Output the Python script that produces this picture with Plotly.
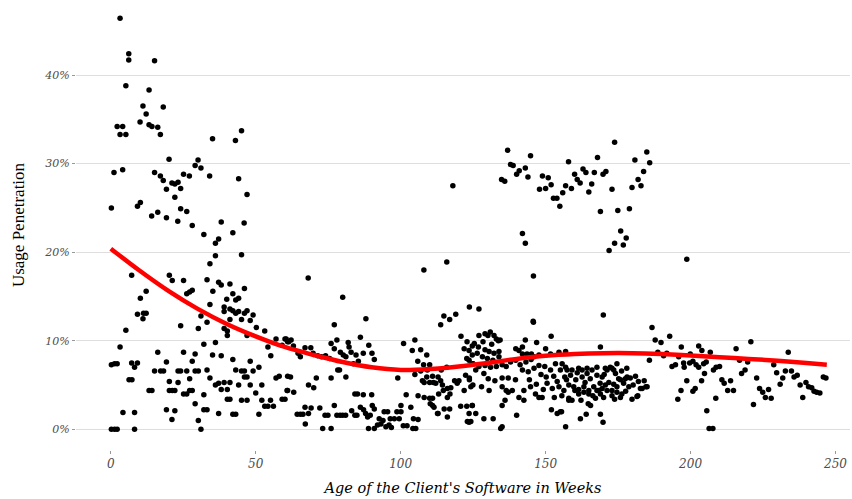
import plotly.graph_objects as go

# puntos: (semanas, % de uso)
early = [
    (3.2, 46.4), (6.2, 42.4), (6.2, 41.7), (15.1, 41.6), (5.2, 38.8), (13.2, 38.3), (11.1, 36.5), (18.1, 36.4),
    (12.2, 35.6), (10.1, 34.7), (13.2, 34.4), (14.2, 34.2), (16.2, 34.1), (2.2, 34.2), (4.1, 34.2), (3.2, 33.3),
    (5.2, 33.3), (17.1, 33.3), (35.1, 32.8), (43.0, 32.6), (45.1, 33.7), (20.1, 30.5), (30.1, 30.4), (29.1, 29.8),
    (31.1, 29.5), (1.1, 29.0), (4.1, 29.3), (15.1, 29.0), (17.1, 28.6), (18.1, 28.1), (21.1, 27.8), (22.1, 27.7),
    (23.2, 27.9), (25.1, 28.8), (27.1, 28.6), (34.1, 28.6), (44.1, 28.3), (19.2, 27.1), (24.1, 27.2), (22.1, 26.2),
    (47.0, 26.5), (0.2, 25.0), (9.2, 25.2), (10.2, 25.6), (14.1, 24.1), (16.2, 24.5), (19.2, 23.9), (24.1, 24.9),
    (26.2, 24.6), (23.1, 23.5), (28.1, 23.0), (38.1, 23.4), (46.0, 23.3), (42.1, 22.2), (32.1, 22.0), (36.1, 21.0),
    (37.2, 21.5), (36.1, 19.6), (34.2, 18.7), (45.1, 19.7), (7.2, 17.4), (20.2, 17.4), (21.2, 16.8), (25.1, 16.8),
    (33.2, 16.9), (37.2, 16.6), (38.1, 16.3), (41.1, 16.4), (46.1, 15.9), (12.2, 15.6), (10.2, 14.8), (28.1, 15.7),
    (27.2, 15.5), (26.2, 15.3), (35.2, 15.6), (42.1, 15.3), (40.0, 14.7), (43.1, 14.6), (44.1, 14.8), (34.2, 14.1),
    (39.1, 13.8), (39.1, 13.3), (41.1, 13.6), (42.1, 13.4), (43.1, 13.1), (44.1, 13.3), (46.1, 13.1), (47.0, 13.4),
    (48.1, 12.3), (49.1, 12.9), (45.1, 12.4), (41.1, 12.4), (9.2, 13.0), (11.3, 13.1), (12.2, 13.1), (11.1, 12.5),
    (31.1, 12.8), (33.2, 12.1), (24.1, 11.7), (30.2, 11.4), (39.1, 11.4), (40.2, 11.1), (40.2, 10.6), (50.2, 11.5),
    (53.1, 11.1), (47.0, 10.6), (5.2, 11.2), (57.0, 10.2), (60.1, 10.2), (61.0, 9.9), (54.2, 9.3), (59.1, 9.5),
    (55.2, 8.3), (32.1, 9.6), (36.1, 9.8), (3.2, 9.3), (16.2, 8.7), (25.1, 8.7), (29.1, 8.5), (19.2, 7.6),
    (28.1, 7.7), (35.1, 8.4), (38.1, 8.3), (42.1, 7.9), (48.1, 7.7), (0.2, 7.3), (1.3, 7.4), (2.2, 7.4),
    (7.2, 7.5), (9.2, 7.5), (8.2, 7.0), (15.1, 6.6), (17.2, 6.6), (18.2, 6.6), (23.2, 6.6), (24.1, 6.6),
    (26.2, 6.6), (29.1, 6.6), (30.2, 6.6), (33.2, 6.7), (43.1, 6.7), (45.1, 6.6), (46.1, 6.6), (51.1, 7.0),
    (49.1, 6.6), (34.2, 5.8), (37.2, 5.2), (36.1, 5.0), (39.1, 5.3), (41.1, 5.3), (46.1, 5.9), (47.0, 5.9),
    (27.2, 5.7), (20.2, 5.4), (23.2, 5.3), (6.3, 5.6), (7.3, 5.6), (44.1, 5.0), (48.1, 5.0), (52.1, 5.0),
    (57.0, 5.8), (58.1, 6.0), (61.0, 6.0), (13.2, 4.4), (14.2, 4.4), (20.2, 4.4), (21.2, 4.4), (22.1, 4.4),
    (27.2, 4.4), (28.1, 4.4), (38.1, 4.5), (40.2, 4.5), (25.1, 4.0), (26.2, 4.0), (32.1, 3.9), (50.0, 4.1),
    (61.0, 4.4), (40.2, 3.4), (41.1, 3.4), (45.1, 3.3), (47.0, 3.3), (52.1, 3.3), (55.1, 3.3), (59.1, 3.4),
    (60.1, 3.4), (29.1, 2.9), (53.1, 2.6), (54.2, 2.6), (56.1, 2.6), (19.2, 2.2), (22.1, 2.1), (32.1, 2.2),
    (33.2, 2.2), (4.2, 1.9), (8.2, 1.9), (37.2, 1.8), (42.1, 1.7), (43.1, 1.7), (51.1, 1.7), (21.1, 1.1),
    (30.2, 1.0), (0.2, 0.0), (1.3, 0.0), (2.2, 0.0), (8.2, 0.0), (31.1, 0.0),
]

middle = [
    (68.1, 17.1), (80.0, 14.9), (88.0, 12.5), (77.1, 11.8), (86.1, 10.4), (108.0, 18.0), (115.9, 18.9), (123.7, 13.8),
    (127.0, 13.6), (119.0, 13.0), (116.9, 12.4), (114.9, 12.8), (113.8, 11.8), (120.8, 10.5), (122.9, 9.9), (124.7, 9.4),
    (60.5, 10.2), (62.2, 10.1), (61.4, 9.9), (63.0, 9.4), (67.0, 9.2), (69.0, 9.2), (64.6, 8.6), (65.4, 8.2),
    (69.8, 8.6), (71.4, 8.3), (72.7, 8.2), (74.1, 8.3), (75.5, 8.0), (76.0, 9.7), (78.0, 10.1), (77.1, 9.1),
    (79.2, 8.7), (81.9, 9.8), (82.2, 9.3), (82.9, 8.7), (81.1, 8.2), (80.2, 8.4), (84.6, 8.4), (83.7, 7.4),
    (85.4, 7.7), (87.1, 8.6), (89.0, 9.5), (90.1, 8.6), (90.9, 7.9), (78.3, 6.7), (78.9, 6.7), (81.1, 5.9),
    (76.0, 5.8), (70.9, 5.8), (70.0, 4.7), (68.2, 5.0), (62.0, 5.9), (60.8, 4.4), (63.1, 4.2), (84.2, 4.0),
    (85.1, 4.0), (87.1, 3.9), (90.0, 3.9), (64.3, 1.7), (65.4, 1.7), (66.3, 1.7), (67.0, 2.5), (69.1, 2.4),
    (72.1, 2.4), (68.2, 1.8), (67.1, 0.6), (73.9, 1.6), (74.9, 1.6), (77.1, 2.7), (78.0, 1.6), (79.1, 1.6),
    (80.0, 1.6), (81.0, 1.6), (83.1, 2.1), (84.2, 1.6), (84.9, 1.6), (73.1, 0.1), (76.0, 0.1), (86.1, 2.5),
    (87.2, 2.2), (87.9, 1.8), (88.6, 1.4), (90.2, 2.7), (90.9, 2.3), (89.5, 1.6), (88.9, 0.1), (90.9, 0.1),
    (92.0, 0.5), (93.2, 0.6), (93.9, 1.0), (94.9, 0.3), (94.3, 2.0), (95.5, 2.0), (92.6, 1.2), (96.4, 1.2),
    (96.0, 0.5), (96.8, 0.2), (97.8, 1.2), (98.7, 2.0), (100.1, 2.7), (100.1, 2.0), (99.5, 1.2), (99.0, 5.8),
    (101.0, 9.7), (101.9, 3.9), (100.9, 0.4), (102.2, 0.4), (103.5, 2.5), (104.4, 1.2), (104.2, 0.1), (105.2, 0.1),
    (106.0, 1.1), (104.9, 10.1), (104.0, 8.9), (106.9, 9.0), (109.0, 8.4), (104.9, 6.2), (105.9, 7.7), (106.9, 6.6),
    (107.5, 5.5), (107.9, 7.3), (110.0, 7.3), (109.2, 6.7), (109.0, 5.9), (111.0, 6.0), (112.1, 5.2), (108.1, 5.3),
    (110.0, 5.3), (111.3, 5.3), (106.0, 3.8), (108.1, 3.6), (110.0, 3.5), (111.0, 3.5), (110.2, 2.9), (111.5, 2.5),
    (112.7, 1.8), (111.0, 2.7), (115.0, 2.3), (116.9, 2.3), (112.9, 5.9), (113.8, 5.5), (114.4, 5.0), (114.0, 6.7),
    (115.9, 7.0), (116.1, 4.6), (117.3, 4.7), (118.6, 5.5), (119.5, 5.2), (120.1, 5.5), (116.1, 3.6), (117.0, 4.0),
    (113.1, 4.0), (114.7, 4.4), (112.9, 1.8), (116.1, 1.4), (120.7, 2.6), (122.8, 2.6), (121.9, 4.4), (122.4, 6.1),
    (123.7, 5.8), (123.7, 5.6), (124.2, 4.8), (123.6, 1.8), (124.2, 0.9), (123.0, 0.9), (124.7, 2.7), (121.9, 9.1),
    (123.6, 8.9), (122.8, 8.0), (124.9, 7.4),
]

late = [
    (118.0, 27.5), (136.9, 31.5), (144.8, 30.9), (137.9, 29.9), (138.8, 29.8), (140.0, 28.8), (140.9, 29.2), (143.0, 29.5),
    (143.9, 28.5), (134.8, 28.2), (135.9, 28.0), (148.9, 28.6), (150.9, 28.4), (151.9, 27.6), (147.9, 27.1), (150.0, 27.2),
    (152.7, 26.1), (153.9, 26.1), (154.9, 25.2), (155.9, 26.7), (156.9, 27.5), (157.9, 30.2), (158.9, 27.2), (160.0, 28.8),
    (160.9, 28.2), (161.9, 27.8), (162.9, 29.4), (163.9, 29.0), (164.9, 26.8), (165.9, 27.7), (166.8, 29.0), (167.9, 30.7),
    (169.8, 28.8), (170.8, 29.1), (168.9, 24.6), (173.8, 32.4), (172.9, 27.1), (174.9, 24.7), (175.9, 22.4), (177.8, 21.6),
    (176.8, 20.8), (173.8, 21.0), (171.9, 20.2), (178.9, 24.9), (179.8, 27.3), (180.8, 30.4), (181.9, 28.2), (182.9, 27.5),
    (183.8, 29.1), (184.9, 31.3), (185.9, 30.1), (142.0, 22.1), (143.0, 21.0), (145.8, 17.3), (145.7, 12.2), (145.8, 12.1),
    (169.9, 12.9), (186.7, 11.5), (187.8, 10.1), (151.9, 10.5), (146.9, 9.8), (143.0, 10.1), (168.9, 9.3),
    (127.0, 10.6), (129.1, 10.8), (130.1, 10.6), (130.9, 11.0), (132.2, 10.6), (133.0, 10.2), (133.7, 10.0), (134.3, 10.1),
    (125.4, 9.7), (126.8, 9.3), (128.4, 9.9), (129.1, 9.0), (131.4, 9.6), (130.5, 8.8), (132.2, 8.6), (133.9, 8.8),
    (124.7, 8.4), (126.4, 8.6), (128.2, 8.2), (129.9, 8.0), (131.8, 7.8), (133.9, 8.2), (123.6, 7.8), (124.9, 7.4),
    (127.0, 7.1), (129.1, 7.2), (131.0, 7.0), (133.0, 7.1), (135.0, 7.3), (136.4, 7.1), (137.9, 7.6), (139.7, 7.8),
    (140.8, 8.9), (142.0, 8.5), (143.6, 8.5), (145.1, 8.5), (146.0, 8.2), (147.7, 8.4), (150.0, 9.1), (151.7, 8.5),
    (154.6, 8.7), (156.9, 8.8), (139.7, 9.1), (142.0, 9.3),
    (125.9, 6.7), (128.7, 6.3), (130.2, 5.7), (132.5, 5.5), (135.0, 5.8), (137.1, 5.8), (139.6, 5.6), (142.0, 6.7),
    (144.0, 6.5), (146.0, 6.9), (147.7, 7.2), (149.7, 7.1), (151.7, 6.7), (153.4, 7.4), (155.1, 6.7), (157.4, 6.7),
    (159.1, 6.7), (160.9, 6.4), (162.6, 5.9), (164.3, 6.9), (166.0, 6.7), (167.7, 6.1), (169.5, 5.9), (171.2, 6.7),
    (172.9, 6.9), (174.1, 6.3), (175.8, 5.6), (177.5, 5.7), (179.2, 5.8), (181.0, 6.0), (155.7, 7.4), (156.9, 7.0),
    (161.4, 6.9), (162.6, 6.7), (164.3, 6.3), (167.7, 7.0), (170.6, 6.9), (172.3, 7.0), (173.5, 6.7), (174.6, 7.4),
    (124.9, 5.0), (127.9, 4.8), (130.5, 4.4), (135.0, 4.8), (136.4, 4.4), (138.5, 4.4), (140.8, 3.6), (142.5, 4.4),
    (144.8, 4.8), (146.5, 4.0), (148.8, 3.6), (150.5, 5.2), (152.3, 4.6), (154.6, 4.8), (156.3, 4.4), (158.0, 3.3),
    (160.1, 4.4), (161.4, 4.0), (163.2, 4.8), (164.9, 4.4), (166.3, 3.8), (168.3, 4.4), (170.6, 5.0), (172.9, 4.4),
    (174.6, 4.8), (176.3, 4.0), (178.7, 4.8), (181.5, 3.7), (183.3, 4.6), (185.0, 4.8), (185.8, 7.8), (178.1, 5.9),
    (182.7, 4.6), (184.6, 4.8), (181.8, 3.8), (158.0, 5.0), (159.7, 4.8), (161.4, 4.5), (163.2, 4.2), (164.9, 4.0),
    (166.6, 4.8), (167.7, 4.4), (169.5, 4.6), (171.2, 4.4), (172.9, 3.8), (174.6, 4.2), (175.8, 3.6), (159.1, 3.3),
    (158.0, 3.5), (167.2, 3.5), (168.9, 4.0), (171.8, 5.3), (173.5, 5.1), (175.2, 5.7), (176.9, 5.2),
    (124.7, 2.7), (125.9, 1.8), (128.7, 1.2), (131.9, 1.2), (135.0, 2.7), (136.0, 3.3), (137.1, 4.2), (140.0, 1.6),
    (142.5, 3.3), (147.7, 3.6), (152.0, 2.2), (154.0, 1.8), (155.1, 2.0), (156.9, 0.3), (162.0, 1.2), (164.0, 1.7),
    (168.9, 1.7), (169.8, 0.8), (134.5, 0.1), (135.0, 0.3), (123.6, 0.8), (155.5, 2.0), (165.5, 2.7), (164.7, 2.9),
    (141.2, 7.3), (143.2, 7.6), (145.0, 7.9), (148.4, 6.2), (150.2, 5.9), (152.8, 6.0), (154.0, 5.4), (156.6, 5.9),
    (158.6, 6.1), (160.4, 5.6), (163.6, 5.3), (165.4, 5.7), (168.8, 5.2), (170.2, 6.2), (176.2, 6.6), (178.0, 6.9),
    (180.2, 5.0), (182.0, 5.4), (144.4, 5.6), (146.8, 5.1), (149.2, 4.5), (153.0, 3.6), (155.6, 3.8), (157.2, 5.6),
    (162.2, 3.3), (170.0, 3.6), (173.8, 3.4), (177.6, 4.3), (179.8, 3.4), (184.0, 5.5),
]

tail = [
    (198.7, 19.2), (189.8, 9.8), (192.8, 10.5), (188.7, 8.7), (191.8, 8.6), (190.7, 8.3), (196.8, 9.3), (195.9, 8.2),
    (199.9, 8.5), (202.8, 9.4), (203.9, 8.9), (206.8, 8.7), (193.6, 7.1), (194.8, 7.3), (197.6, 7.5), (197.8, 7.0),
    (199.7, 7.5), (200.8, 7.7), (201.9, 7.3), (202.8, 7.0), (204.5, 7.4), (205.4, 7.6), (204.8, 6.3), (207.9, 6.7),
    (208.8, 7.0), (210.0, 7.1), (198.7, 5.5), (196.7, 4.4), (195.6, 3.4), (201.6, 4.6), (200.8, 4.3), (203.8, 5.5),
    (205.6, 2.1), (206.4, 0.1), (207.7, 0.1), (208.7, 3.5), (210.8, 5.6), (211.6, 5.2), (212.8, 4.4), (214.8, 4.4),
    (213.8, 5.5), (215.7, 9.1), (216.9, 7.8), (217.6, 6.3), (218.8, 6.7), (219.7, 7.6), (220.8, 9.9), (221.7, 2.8),
    (222.8, 5.8), (223.8, 4.6), (224.9, 4.2), (226.9, 4.5), (225.8, 3.6), (227.8, 3.5), (228.7, 7.3), (229.7, 6.4),
    (230.9, 5.1), (231.8, 5.8), (232.7, 6.6), (234.8, 6.6), (233.7, 8.7), (235.7, 5.9), (236.8, 6.1), (237.8, 5.0),
    (238.7, 3.6), (239.8, 5.3), (240.7, 4.8), (241.8, 4.7), (242.6, 4.3), (243.5, 4.2), (244.6, 4.1), (245.8, 5.9),
    (246.7, 5.8),
]

# curva suavizada (loess)
smooth_weeks = [0, 10, 20, 30, 40, 50, 60, 70, 80, 90, 100, 110, 120, 130, 140, 150, 160, 170, 180, 190, 200, 210,
                220, 230, 240, 247]
smooth_usage = [20.4, 17.9, 15.6, 13.6, 11.9, 10.5, 9.3, 8.4, 7.6, 7.0, 6.7, 6.8, 7.1, 7.5, 7.95, 8.3, 8.5, 8.6, 8.6,
                8.5, 8.35, 8.15, 7.95, 7.75, 7.5, 7.3]

x_ticks = [0, 50, 100, 150, 200, 250]
y_ticks = [0, 10, 20, 30, 40]
y_labels = ['0%', '10%', '20%', '30%', '40%']

points = early + middle + late + tail
weeks = [p[0] for p in points]
usage = [p[1] for p in points]

fig = go.Figure()

fig.add_trace(go.Scatter(
    x=weeks, y=usage, mode='markers',
    marker=dict(color='black', size=5.5),
    showlegend=False
))

fig.add_trace(go.Scatter(
    x=smooth_weeks, y=smooth_usage, mode='lines',
    line=dict(color='#FF0000', width=4.5, shape='spline'),
    showlegend=False
))

fig.update_layout(
    width=852, height=499,
    margin=dict(l=76, r=2, t=0, b=49),
    plot_bgcolor='white',
    paper_bgcolor='white',
    font=dict(family='Liberation Serif', color='black'),
)

fig.update_xaxes(
    range=[-12, 255], tickvals=x_ticks, showgrid=False, zeroline=False,
    ticks='outside', ticklen=3, tickcolor='#999999',
    tickfont=dict(family='DejaVu Serif', size=12, color='#4D4D4D', style='italic'),
    title=dict(text="Age of the Client's Software in Weeks", standoff=12,
               font=dict(family='DejaVu Serif', size=14.5, color='black', style='italic')),
)

fig.update_yaxes(
    range=[-2.33, 48.47], tickvals=y_ticks, ticktext=y_labels,
    showgrid=True, gridcolor='#DEDEDE', gridwidth=1, zeroline=False,
    ticks='outside', ticklen=3, tickcolor='#999999',
    tickfont=dict(family='DejaVu Serif', size=11, color='#4D4D4D', style='italic'),
    title=dict(text='Usage Penetration', standoff=15,
               font=dict(family='Liberation Serif', size=17, color='black')),
)

# quitar el margen del body para que el grafico ocupe la ventana completa
fig.write_html("out.html", config={'displayModeBar': False},
               post_script="document.body.style.margin='0';document.body.style.overflow='hidden';")
